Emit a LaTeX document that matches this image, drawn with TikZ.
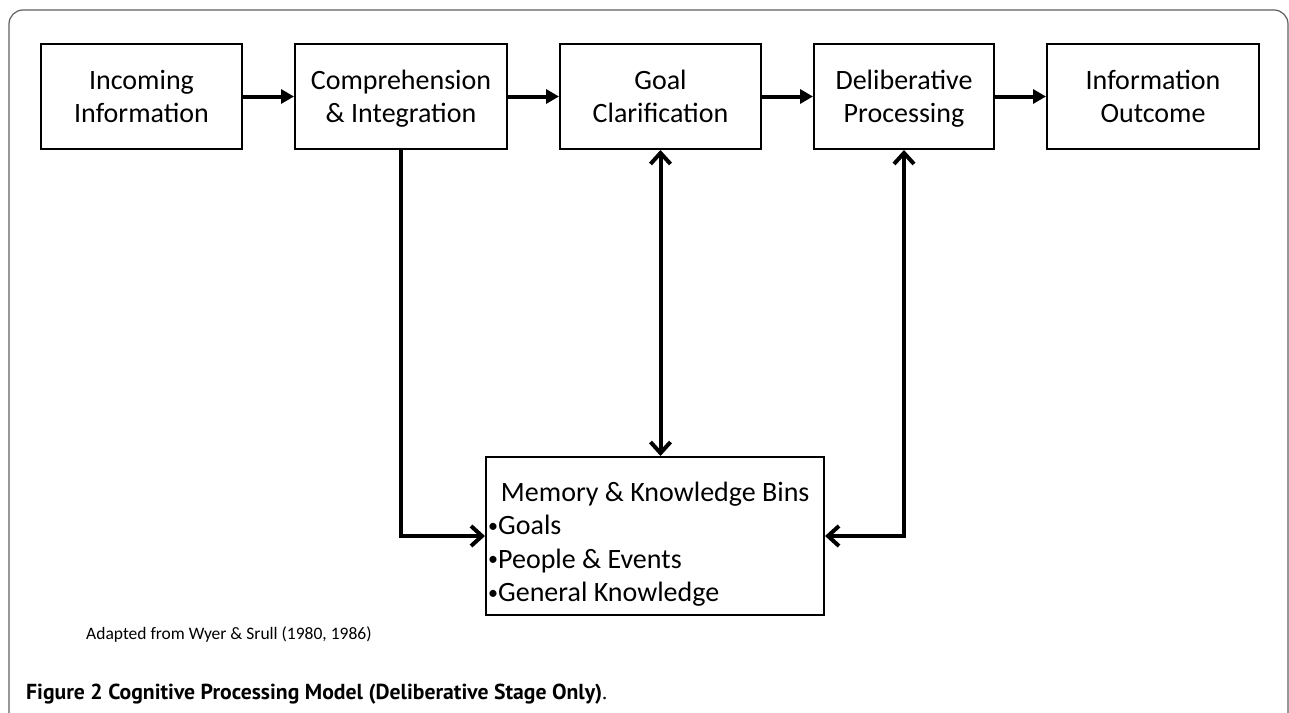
\documentclass[tikz,border=0pt]{standalone}
\usepackage{fontspec}
\setmainfont{Carlito}
\newfontfamily\capfont{PT Sans}
\usetikzlibrary{arrows.meta}
\newcommand{\bul}{\raisebox{2.5pt}{\fontsize{20}{20}\selectfont•}}
\begin{document}
\begin{tikzpicture}[x=1pt,y=-1pt,
  stage/.style={draw, line width=2pt, minimum height=105pt, align=center, inner sep=0pt,
    text height=55.4pt, text depth=3.6pt, font=\fontsize{28}{33.4}\selectfont},
  flow/.style={line width=4pt, -{Triangle[length=13pt,width=14pt]}},
  link/.style={line width=4pt, -{Straight Barb[length=11pt,width=20pt,line width=4pt]}},
  dlink/.style={line width=4pt, {Straight Barb[length=11pt,width=20pt,line width=4pt]}-{Straight Barb[length=11pt,width=20pt,line width=4pt]}}
]
\useasboundingbox (0,0) rectangle (1289,712);
\clip (0,0) rectangle (1289,712);
\fill[white] (0,0) rectangle (1289,712);
\draw[gray!75!black, line width=1.2pt, rounded corners=14pt] (9,740) -- (9,10) -- (1288,10) -- (1288,740);

\node[stage, minimum width=201pt] (inc) at (141.5,96.5) {Incoming\\Information};
\node[stage, minimum width=212pt] (comp) at (401,96.5) {Comprehension\\\& Integration};
\node[stage, minimum width=201pt] (goal) at (660.5,96.5) {Goal\\Clarification};
\node[stage, minimum width=180pt] (delib) at (904,96.5) {Deliberative\\Processing};
\node[stage, minimum width=212pt] (out) at (1153,96.5) {Information\\Outcome};

\node[draw, line width=2pt, minimum width=338pt, minimum height=158pt, inner sep=0pt] (mem) at (655,536) {};
\node[anchor=base west, inner sep=0pt, font=\fontsize{28}{33.5}\selectfont] (memtext) at (488,501)
  {\parbox[t]{334pt}{\raggedright\makebox[334pt]{Memory \& Knowledge Bins}\\
  \bul Goals\\\bul People \& Events\\\bul General Knowledge}};

\draw[flow] (inc.east) -- (comp.west);
\draw[flow] (comp.east) -- (goal.west);
\draw[flow] (goal.east) -- (delib.west);
\draw[flow] (delib.east) -- (out.west);

\draw[link] (comp.south) |- (mem.west);
\draw[dlink] (goal.south) -- (goal.south |- mem.north);
\draw[dlink] (delib.south) |- (mem.east);

\node[anchor=base west, inner sep=0pt, font=\fontsize{17.5}{20}\selectfont] (src) at (86,639)
  {Adapted from Wyer \& Srull (1980, 1986)};
\node[anchor=base west, inner sep=0pt, font=\capfont\fontsize{21.7}{24}\selectfont] (cap) at (26,699)
  {\textbf{Figure 2 Cognitive Processing Model (Deliberative Stage Only)}.};
\end{tikzpicture}
\end{document}
